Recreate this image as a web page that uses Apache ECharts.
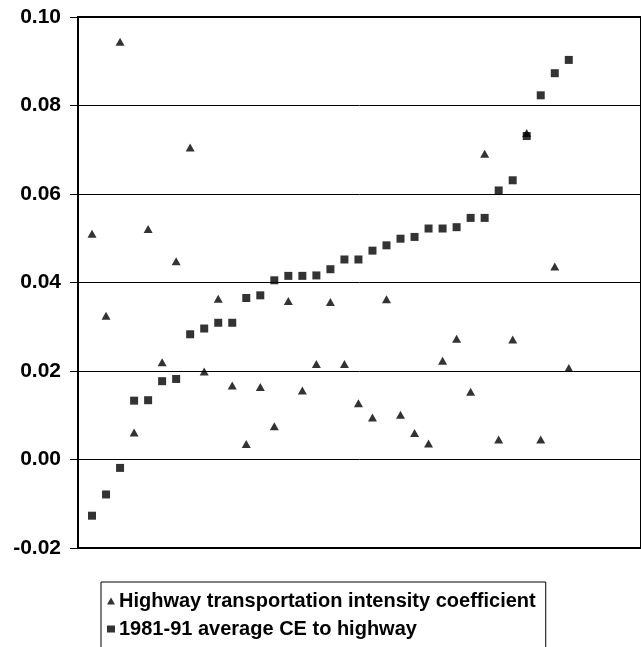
<!DOCTYPE html>
<html lang="en">
<head>
    <meta charset="UTF-8">
    <script type="text/javascript" src="https://cdn.jsdelivr.net/npm/echarts@6/dist/echarts.min.js"></script>
    <title>CE to highway</title>
    <style>
        html, body { margin: 0; padding: 0; background: #fff; }
        #chart { width: 641px; height: 647px; }
    </style>
</head>
<body>
<div id="chart"></div>
<script type="text/javascript">
    // sorted by the 1981-91 average CE, one point per unit
    var ceAverage = [
        -0.0127, -0.0079, -0.0019, 0.0133, 0.0134, 0.0177, 0.0182, 0.0283, 0.0296, 0.0309,
        0.0309, 0.0365, 0.0371, 0.0405, 0.0415, 0.0415, 0.0416, 0.0430, 0.0452, 0.0452,
        0.0472, 0.0484, 0.0499, 0.0503, 0.0522, 0.0522, 0.0525, 0.0546, 0.0546, 0.0608,
        0.0631, 0.0731, 0.0823, 0.0873, 0.0903
    ];
    var intensityCoef = [
        0.0510, 0.0325, 0.0944, 0.0061, 0.0521, 0.0220, 0.0448, 0.0705, 0.0199, 0.0363,
        0.0167, 0.0035, 0.0164, 0.0075, 0.0358, 0.0156, 0.0216, 0.0356, 0.0216, 0.0127,
        0.0095, 0.0362, 0.0101, 0.0060, 0.0036, 0.0223, 0.0273, 0.0153, 0.0691, 0.0045,
        0.0271, 0.0738, 0.0045, 0.0436, 0.0207
    ];
    var yTicks = [-0.02, 0.00, 0.02, 0.04, 0.06, 0.08, 0.10];

    var seriesNames = ['Highway transportation intensity coefficient', '1981-91 average CE to highway'];

    function toPoints(arr) {
        return arr.map(function (v, i) { return [i + 1, v]; });
    }

    var chart = echarts.init(document.getElementById('chart'), null, {renderer: 'canvas'});
    chart.setOption({
        animation: false,
        backgroundColor: '#fff',
        grid: {
            left: 78,
            top: 17,
            right: -6,
            bottom: 99,
            show: true,
            borderColor: '#000',
            borderWidth: 2
        },
        legend: {
            orient: 'vertical',
            left: 101,
            top: 582,
            height: 200,
            padding: [9, 10, 30, 6],
            itemGap: 8,
            itemWidth: 8,
            itemHeight: 7,
            borderColor: '#000',
            borderWidth: 1,
            textStyle: {
                fontFamily: 'Liberation Sans',
                fontWeight: 'bold',
                fontSize: 20,
                color: '#000',
                padding: [0, 0, 0, -1]
            },
            data: [
                {name: seriesNames[0], icon: 'triangle'},
                {name: seriesNames[1], icon: 'rect'}
            ]
        },
        xAxis: {
            type: 'value',
            min: 0,
            max: 40.15,
            show: false
        },
        yAxis: {
            type: 'value',
            min: yTicks[0],
            max: yTicks[yTicks.length - 1],
            interval: 0.02,
            axisLine: {show: true, lineStyle: {color: '#000', width: 2}},
            axisTick: {show: true, length: 8, lineStyle: {color: '#000', width: 1}},
            splitLine: {lineStyle: {color: '#000', width: 1}},
            axisLabel: {
                margin: 17,
                fontFamily: 'Liberation Sans',
                fontWeight: 'bold',
                fontSize: 21,
                color: '#000',
                formatter: function (v) { return v.toFixed(2); }
            }
        },
        series: [
            {
                name: seriesNames[0],
                type: 'scatter',
                symbol: 'triangle',
                symbolSize: [9, 8],
                itemStyle: {color: '#000'},
                data: toPoints(intensityCoef)
            },
            {
                name: seriesNames[1],
                type: 'scatter',
                symbol: 'rect',
                symbolSize: 8,
                itemStyle: {color: '#000'},
                data: toPoints(ceAverage)
            }
        ]
    });
</script>
</body>
</html>
